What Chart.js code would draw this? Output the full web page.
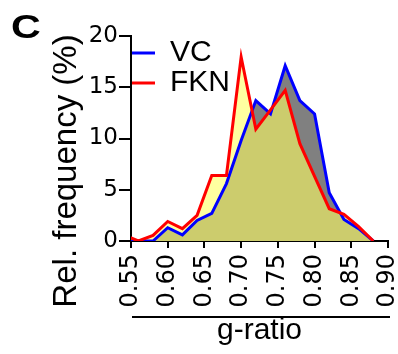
<!DOCTYPE html>
<html><head><meta charset="utf-8">
<script src="https://cdn.jsdelivr.net/npm/chart.js@4.4.1/dist/chart.umd.min.js"></script>
<style>html,body{margin:0;padding:0;background:#fff}#wrap{width:398px;height:354px}</style>
</head><body><div id="wrap"><canvas id="c" width="398" height="354"></canvas></div>
<script>
const gRatio = [0.54,0.56,0.58,0.60,0.62,0.64,0.66,0.68,0.70,0.72,0.74,0.76,0.78,0.80,0.82,0.84,0.86,0.88];
const vcValues = [0,0,0,1.3,0.6,2.0,2.7,5.6,9.8,13.7,12.4,17.1,13.7,12.4,4.7,2.1,1.2,0];
const fknValues = [0.6,0,0.55,1.9,1.2,2.5,6.4,6.4,17.95,10.9,12.8,14.7,9.5,6.3,3.15,2.6,1.4,0];
const xTicks = [0.55,0.60,0.65,0.70,0.75,0.80,0.85,0.90];
const yTicks = [0,5,10,15,20];
const seriesNames = ['VC','FKN'];

const toPts = (vals) => gRatio.map((x,i)=>({x:x,y:vals[i]}));

const extras = {
  id:'extras',
  afterLayout(chart){
    const lg = chart.legend, ca = chart.chartArea;
    if (lg) { lg.top = ca.top + 2; lg.bottom = ca.bottom; lg.left = ca.left; }
  },
  afterDraw(chart){
    const ctx = chart.ctx;
    const ca = chart.chartArea;
    ctx.save();
    ctx.fillStyle = '#000';
    ctx.font = '33px "Liberation Sans", Arial, sans-serif';
    ctx.textAlign = 'center';
    ctx.textBaseline = 'middle';
    ctx.translate(67,171);
    ctx.rotate(-Math.PI/2);
    ctx.fillText('Rel. frequency (%)',0,0);
    ctx.restore();
    ctx.save();
    ctx.fillStyle = '#000';
    ctx.font = 'bold 33px "Liberation Sans", Arial, sans-serif';
    ctx.textAlign = 'left';
    ctx.textBaseline = 'alphabetic';
    ctx.translate(11,38);
    ctx.scale(1.25,1);
    ctx.fillText('C',0,0);
    ctx.restore();
    ctx.save();
    ctx.strokeStyle = '#000';
    ctx.lineWidth = 2;
    ctx.beginPath();
    ctx.moveTo(ca.left+1, chart.height-37);
    ctx.lineTo(ca.right+2, chart.height-37);
    ctx.stroke();
    ctx.restore();
  }
};

new Chart(document.getElementById('c'), {
  type:'line',
  data:{
    datasets:[
      {label:seriesNames[0], data:toPts(vcValues), borderColor:'#0000ff', backgroundColor:'#808080',
       borderWidth:3, fill:'origin', pointRadius:0, tension:0, order:2},
      {label:seriesNames[1], data:toPts(fknValues), borderColor:'#ff0000', backgroundColor:'rgba(255,255,97,0.6)',
       borderWidth:3, fill:'origin', pointRadius:0, tension:0, order:1}
    ]
  },
  options:{
    responsive:false, animation:false, devicePixelRatio:1,
    layout:{padding:{top:36,left:0,right:10,bottom:0}},
    plugins:{
      filler:{drawTime:'beforeDatasetsDraw'},
      tooltip:{enabled:false},
      legend:{
        position:'chartArea', align:'start',
        labels:{
          usePointStyle:true, pointStyle:'line', pointStyleWidth:24,
          padding:0, color:'#000',
          font:{family:'"Liberation Sans", Arial, sans-serif', size:30},
          sort:(a,b)=>a.datasetIndex-b.datasetIndex
        }
      }
    },
    scales:{
      x:{
        type:'linear', min:0.55, max:0.90,
        afterBuildTicks:(s)=>{ s.ticks = xTicks.map(v=>({value:v})); },
        afterFit:(s)=>{ s.height = 113; s.paddingLeft = 0; s.paddingRight = 0; },
        ticks:{ minRotation:90, maxRotation:90, padding:6, color:'#000', autoSkip:false,
          font:{family:'"DejaVu Sans", sans-serif', size:24},
          callback:(v)=>Number(v).toFixed(2) },
        grid:{ drawOnChartArea:false, drawTicks:true, tickLength:7, color:'#000', lineWidth:2 },
        border:{ display:true, color:'#000', width:2 },
        title:{ display:true, text:'g-ratio', color:'#000', padding:{top:0,bottom:5},
          font:{family:'"Liberation Sans", Arial, sans-serif', size:30} }
      },
      y:{
        type:'linear', min:0, max:20,
        afterBuildTicks:(s)=>{ s.ticks = yTicks.map(v=>({value:v})); },
        afterFit:(s)=>{ s.width = 131; s.paddingTop = 0; s.paddingBottom = 0; },
        ticks:{ padding:1, color:'#000', font:{family:'"DejaVu Sans", sans-serif', size:23} },
        grid:{ drawOnChartArea:false, drawTicks:true, tickLength:12, color:'#000', lineWidth:2 },
        border:{ display:true, color:'#000', width:2 }
      }
    }
  },
  plugins:[extras]
});
</script></body></html>
